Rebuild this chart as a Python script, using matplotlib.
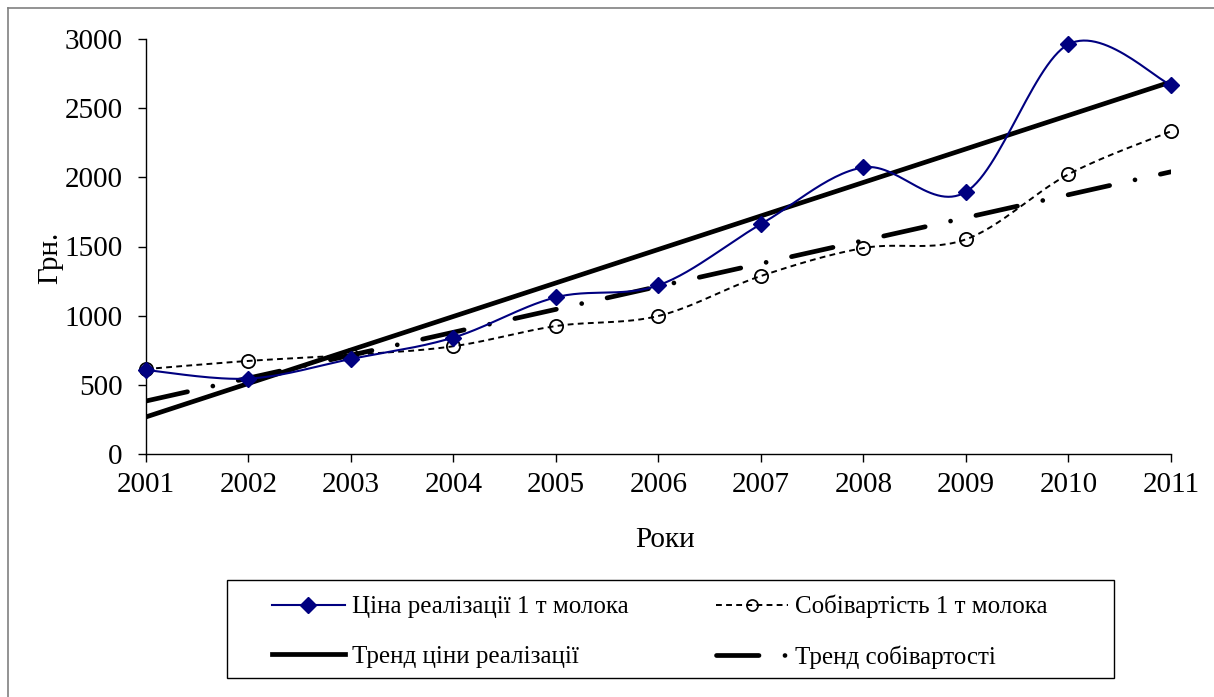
import numpy as np
import matplotlib
matplotlib.use("Agg")
import matplotlib.pyplot as plt
from matplotlib.lines import Line2D
from matplotlib.patches import Rectangle

plt.rcParams['font.family'] = ['Liberation Serif', 'DejaVu Serif']

# data
years = [2001, 2002, 2003, 2004, 2005, 2006, 2007, 2008, 2009, 2010, 2011]
price = [607, 545, 687, 842, 1133, 1220, 1662, 2072, 1895, 2962, 2668]
cost = [614, 673, 716, 779, 925, 998, 1287, 1489, 1552, 2022, 2333]
trend_years = [2001, 2011]
price_trend = [268, 2690]
cost_trend = [383, 2040]

W, H = 1214, 697


def smooth(x, y, n=30):
    # Excel-like smoothed line (Catmull-Rom bezier segments)
    x = np.asarray(x, float)
    y = np.asarray(y, float)
    px = np.concatenate([[x[0]], x, [x[-1]]])
    py = np.concatenate([[y[0]], y, [y[-1]]])
    xs, ys = [], []
    t = np.linspace(0, 1, n)
    for i in range(1, len(px) - 2):
        p0 = np.array([px[i], py[i]])
        p3 = np.array([px[i + 1], py[i + 1]])
        p1 = p0 + (np.array([px[i + 1], py[i + 1]]) - np.array([px[i - 1], py[i - 1]])) / 6
        p2 = p3 - (np.array([px[i + 2], py[i + 2]]) - np.array([px[i], py[i]])) / 6
        b = ((1 - t) ** 3)[:, None] * p0 + (3 * (1 - t) ** 2 * t)[:, None] * p1 \
            + (3 * (1 - t) * t ** 2)[:, None] * p2 + (t ** 3)[:, None] * p3
        xs.append(b[:, 0])
        ys.append(b[:, 1])
    return np.concatenate(xs), np.concatenate(ys)


fig = plt.figure(figsize=(W / 100, H / 100), dpi=100)
ax = fig.add_axes([146 / W, 1 - 454 / H, (1171 - 146) / W, (454 - 39) / H])

navy = '#000080'
cdash = (3, 2.2)
trend_dash = (9, 5.5, 0.01, 5.5)

# trend lines
ax.plot(trend_years, price_trend, color='black', lw=3.4, solid_capstyle='butt', zorder=2)
ax.plot(trend_years, cost_trend, color='black', lw=3.4, dashes=trend_dash,
        dash_capstyle='round', zorder=2)

# cost line (dashed, smoothed) with open circles
sx, sy = smooth(years, cost)
ax.plot(sx, sy, color='black', lw=1.4, dashes=cdash, zorder=3)
ax.plot(years, cost, ls='none', marker='o', ms=9.5, mfc='none', mec='black',
        mew=1.3, clip_on=False, zorder=4)

# price line (navy, smoothed) with diamonds
sx, sy = smooth(years, price)
ax.plot(sx, sy, color=navy, lw=1.5, zorder=5)
ax.plot(years, price, ls='none', marker='D', ms=8, mfc=navy, mec=navy,
        clip_on=False, zorder=6)

ax.set_xlim(2001, 2011)
ax.set_ylim(0, 3000)
ax.set_xticks(years)
ax.set_yticks(range(0, 3001, 500))
ax.spines['top'].set_visible(False)
ax.spines['right'].set_visible(False)
for s in ('left', 'bottom'):
    ax.spines[s].set_linewidth(1.0)
ax.tick_params(axis='both', direction='out', length=5.8, width=1.0, labelsize=21)
ax.tick_params(axis='y', pad=11)
ax.tick_params(axis='x', pad=7)

# axis titles
fig.text(665.5 / W, 1 - 547 / H, 'Роки', fontsize=21, ha='center', va='baseline')
fig.text(57 / W, 1 - 258 / H, 'Грн.', fontsize=21, ha='center', va='baseline',
         rotation=90, rotation_mode='anchor')

# legend with a manual frame
fig.add_artist(Rectangle((227 / W, 1 - 678 / H), (1114 - 227) / W, (678 - 580) / H,
                         transform=fig.transFigure, fill=False, edgecolor='black', lw=1.0))
h_price = Line2D([], [], color=navy, lw=1.5, marker='D', ms=8, mfc=navy, mec=navy)
h_cost = Line2D([], [], color='black', lw=1.4, dashes=cdash, marker='o', ms=8,
                mfc='none', mec='black', mew=1.2)
h_ptrend = Line2D([], [], color='black', lw=3.4)
h_ctrend = Line2D([], [], color='black', lw=3.4, dashes=trend_dash, dash_capstyle='round')
leg = fig.legend([h_price, h_ptrend, h_cost, h_ctrend],
                 ['Ціна реалізації 1 т молока', 'Тренд ціни реалізації',
                  'Собівартість 1 т молока', 'Тренд собівартості'],
                 ncol=2, loc='upper left', bbox_to_anchor=(272 / W, 1 - 595 / H),
                 fontsize=18, frameon=False, borderpad=0, borderaxespad=0,
                 handlelength=2.9, handletextpad=0.28, labelspacing=1.08,
                 columnspacing=3.5)

# outer chart border (left and top edges visible)
fig.add_artist(Line2D([8 / W, 8 / W], [0, 1 - 8 / H], color='#808080', lw=1.2,
                      transform=fig.transFigure))
fig.add_artist(Line2D([8 / W, 1], [1 - 8 / H, 1 - 8 / H], color='#808080', lw=1.2,
                      transform=fig.transFigure))

fig.savefig('out.png', dpi=100)
